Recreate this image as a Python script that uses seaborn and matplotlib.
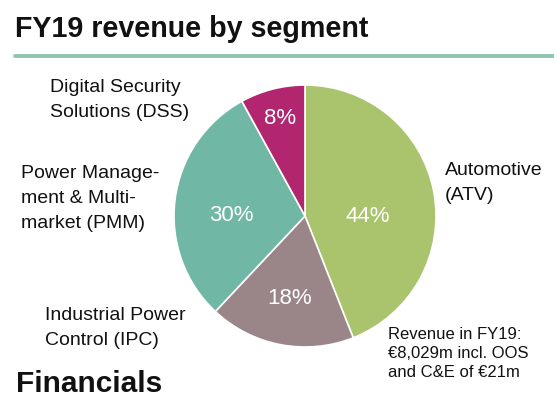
import matplotlib.pyplot as plt
import numpy as np
import seaborn as sns
from matplotlib.lines import Line2D

# segment data, clockwise from 12 o'clock
segments = ["Automotive\n(ATV)",
            "Industrial Power\nControl (IPC)",
            "Power Manage-\nment & Multi-\nmarket (PMM)",
            "Digital Security\nSolutions (DSS)"]
shares = [44, 18, 30, 8]
colors = ["#a9c46d", "#9a8688", "#70b8a5", "#b2256f"]

note = "Revenue in FY19:\n€8,029m incl. OOS\nand C&E of €21m"

# label placement inside wedges (fraction of radius, angle nudge in deg)
pct_dist = [0.48, 0.64, 0.56, 0.77]
pct_nudge = [-10.8, 0, 7, 0]

sns.set_theme(style="white")
plt.rcParams["font.family"] = ["Liberation Sans", "DejaVu Sans"]

W, H = 554, 407
fig = plt.figure(figsize=(W / 100, H / 100), dpi=100)
fig.patch.set_facecolor("white")


def fx(px):
    return px / W


def fy(py):
    return 1 - py / H


# pie axes: circle centre (305, 216), radius 131 px
ax = fig.add_axes([fx(174), fy(347), 262 / W, 262 / H])
wedges, _ = ax.pie(shares, colors=colors, startangle=90, counterclock=False,
                   radius=1, wedgeprops=dict(edgecolor="white", linewidth=1.2))
ax.set_xlim(-1, 1)
ax.set_ylim(-1, 1)
ax.set_aspect("equal")
ax.axis("off")

for w, s, d, n in zip(wedges, shares, pct_dist, pct_nudge):
    ang = np.deg2rad((w.theta1 + w.theta2) / 2 + n)
    ax.text(d * np.cos(ang), d * np.sin(ang), f"{s}%", color="white",
            fontsize=16, ha="center", va="center")

# segment labels
label_pos = [(445, 162), (45, 307), (21, 165), (50, 79)]
for txt, (x, y) in zip(segments, label_pos):
    fig.text(fx(x), fy(y), txt, fontsize=14, color="#111111",
             ha="left", va="top", linespacing=1.6)

fig.text(fx(388), fy(327), note, fontsize=12, color="#111111",
         ha="left", va="top", linespacing=1.35)

# header and footer
fig.text(fx(15), fy(15), "FY19 revenue by segment", fontsize=20.6,
         fontweight="bold", color="#111111", ha="left", va="top")
fig.add_artist(Line2D([fx(15), 1], [fy(56), fy(56)], color="#8cc4ad",
                      linewidth=2.8, transform=fig.transFigure))
fig.text(fx(16), fy(370), "Financials", fontsize=21.5,
         fontweight="bold", color="#111111", ha="left", va="top")

fig.savefig("out.png", dpi=100, facecolor="white")
